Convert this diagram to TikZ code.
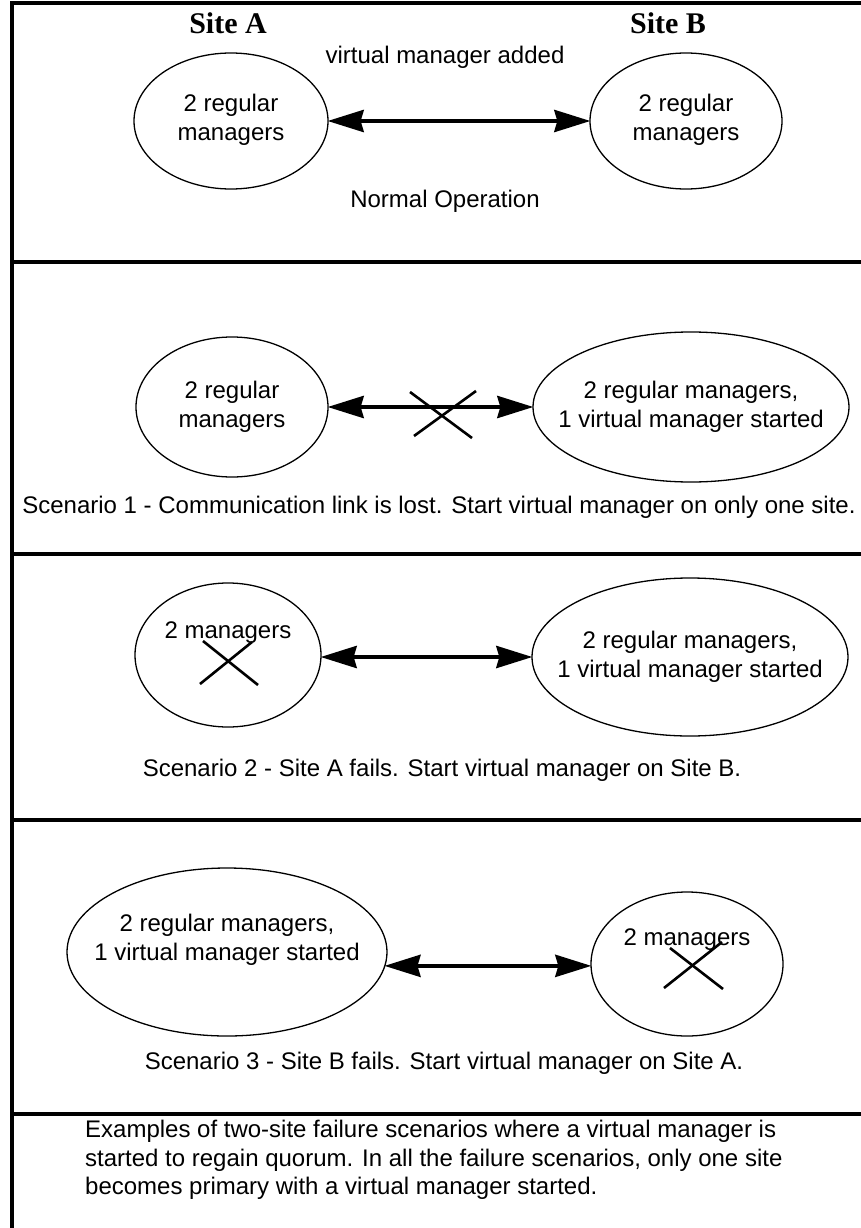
\documentclass[tikz,border=0pt]{standalone}
\usepackage{fontspec}
\setmainfont{Liberation Sans}
\newfontfamily\sitefont{Liberation Serif}
\usetikzlibrary{shapes.geometric,arrows.meta}
\tikzset{
  lbl/.style={inner sep=0pt, font=\fontsize{24}{28.5}\selectfont, align=center},
  sitelbl/.style={inner sep=0pt, font=\sitefont\bfseries\fontsize{30}{32}\selectfont},
  site/.style={ellipse, draw, line width=1.3pt, inner sep=0pt},
  link/.style={line width=4pt, {Stealth[length=36pt,width=22pt,inset=3pt]}-{Stealth[length=36pt,width=22pt,inset=3pt]}, shorten <=-1pt, shorten >=-1pt},
  frame/.style={line width=3.5pt},
  xmark/.style={line width=2.6pt}
}
\begin{document}
\begin{tikzpicture}[x=1pt,y=-1pt]
\useasboundingbox (0,0) rectangle (861,1228);
% frame
\draw[frame] (12,1228) -- (12,3) -- (861,3);
\draw[frame] (12,262) -- (861,262);
\draw[frame] (12,554) -- (861,554);
\draw[frame] (12,820) -- (861,820);
\draw[frame] (12,1114) -- (861,1114);
% row 1
\node[sitelbl] (siteA) at (228,23) {Site A};
\node[sitelbl] (siteB) at (668,23) {Site B};
\node[lbl] (vma) at (445,57) {virtual manager added};
\node[site, minimum width=194pt, minimum height=136pt] (a1) at (231,121) {};
\node[site, minimum width=192pt, minimum height=136pt] (b1) at (686,121) {};
\node[lbl] (a1t) at (231,120) {2 regular\\managers};
\node[lbl] (b1t) at (686,120) {2 regular\\managers};
\draw[link] (a1) -- (b1);
\node[lbl] (normal) at (445,201) {Normal Operation};
% row 2
\node[site, minimum width=192pt, minimum height=140pt] (a2) at (232,407) {};
\node[site, minimum width=316pt, minimum height=150pt] (b2) at (691,407) {};
\node[lbl] (a2t) at (232,407) {2 regular\\managers};
\node[lbl] (b2t) at (691,407) {2 regular managers,\\1 virtual manager started};
\draw[link] (a2) -- (b2);
\draw[xmark] (410,392) -- (472,438);
\draw[xmark] (476,391) -- (414,436);
\node[lbl] (s1) at (439,507) {Scenario 1 - Communication link is lost. Start virtual manager on only one site.};
% row 3
\node[site, minimum width=186pt, minimum height=144pt] (a3) at (228,655) {};
\node[site, minimum width=316pt, minimum height=158pt] (b3) at (690,657) {};
\node[lbl] (a3t) at (228,633) {2 managers};
\draw[xmark] (203,641) -- (258,685);
\draw[xmark] (252,642) -- (200,684);
\node[lbl] (b3t) at (690,657) {2 regular managers,\\1 virtual manager started};
\draw[link] (a3.east |- 0,657) -- (b3.west);
\node[lbl] (s2) at (442,770) {Scenario 2 - Site A fails. Start virtual manager on Site B.};
% row 4
\node[site, minimum width=320pt, minimum height=168pt] (a4) at (227,952) {};
\node[site, minimum width=192pt, minimum height=144pt] (b4) at (687,964) {};
\node[lbl] (a4t) at (227,940) {2 regular managers,\\1 virtual manager started};
\node[lbl] (b4t) at (687,940) {2 managers};
\draw[xmark] (670,948) -- (723,989);
\draw[xmark] (664,988) -- (722,942);
\coordinate (l4) at (a4.-5);
\draw[link] (l4) -- (l4 -| b4.west);
\node[lbl] (s3) at (444,1063) {Scenario 3 - Site B fails. Start virtual manager on Site A.};
% row 5
\node[lbl, align=left, anchor=north west] (ex) at (85,1120) {Examples of two-site failure scenarios where a virtual manager is\\started to regain quorum. In all the failure scenarios, only one site\\becomes primary with a virtual manager started.};
\end{tikzpicture}
\end{document}
